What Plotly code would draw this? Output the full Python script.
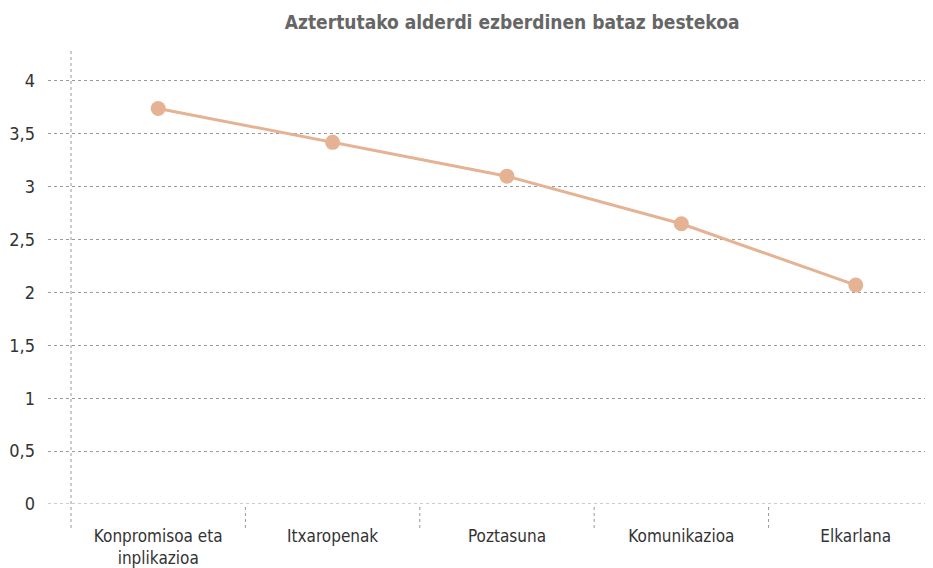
import plotly.graph_objects as go

categories = ["Konpromisoa eta<br>inplikazioa", "Itxaropenak", "Poztasuna", "Komunikazioa", "Elkarlana"]
values = [3.74, 3.42, 3.10, 2.65, 2.07]
y_ticks = [0, 0.5, 1, 1.5, 2, 2.5, 3, 3.5, 4]
title = "Aztertutako alderdi ezberdinen bataz bestekoa"

FONT = "Liberation Sans Narrow, DejaVu Sans Condensed, Roboto, sans-serif"
COLOR = "#E5B393"
GRID = "#9a9a9a"

xs = list(range(len(categories)))

fig = go.Figure()
fig.add_trace(go.Scatter(
    x=xs, y=values, mode="lines+markers",
    line=dict(color=COLOR, width=3),
    marker=dict(color=COLOR, size=15),
    hoverinfo="y", cliponaxis=False,
))

below = -24 / 456
shapes = [dict(type="line", xref="x", yref="paper", x0=-0.5, x1=-0.5, y0=below, y1=1,
               line=dict(color=GRID, width=1, dash="dot"))]
for b in [0.5, 1.5, 2.5, 3.5]:
    shapes.append(dict(type="line", xref="x", yref="paper", x0=b, x1=b, y0=below, y1=0,
                       line=dict(color=GRID, width=1, dash="dot")))
# gridline at zero (plot bottom edge)
shapes.append(dict(type="line", xref="paper", yref="y", x0=0, x1=1, y0=0, y1=0,
                   line=dict(color=GRID, width=1, dash="dot")))

fig.update_layout(
    width=925, height=560,
    margin=dict(l=40, r=0, t=40, b=64),
    paper_bgcolor="white", plot_bgcolor="white",
    separators=",.",
    showlegend=False,
    title=dict(text="<b>" + title + "</b>", x=0.545, xanchor="center", y=0.975, yanchor="middle",
               font=dict(family=FONT, size=19, color="#666666")),
    font=dict(family=FONT, size=17, color="#333333"),
    shapes=shapes,
    xaxis=dict(range=[-0.632, 4.443], tickmode="array", tickvals=xs, ticktext=categories,
               showgrid=False, zeroline=False, showline=False, ticks="", automargin=False,
               ticklabelstandoff=20,
               tickfont=dict(family=FONT, size=17, color="#333333")),
    yaxis=dict(range=[0, 4.312], tickmode="array", tickvals=y_ticks,
               showgrid=True, gridcolor=GRID, griddash="dot", gridwidth=1,
               zeroline=False, showline=False, ticks="", ticklabelstandoff=12, automargin=False,
               tickfont=dict(family=FONT, size=18, color="#333333")),
)

fig.write_html("out.html")
